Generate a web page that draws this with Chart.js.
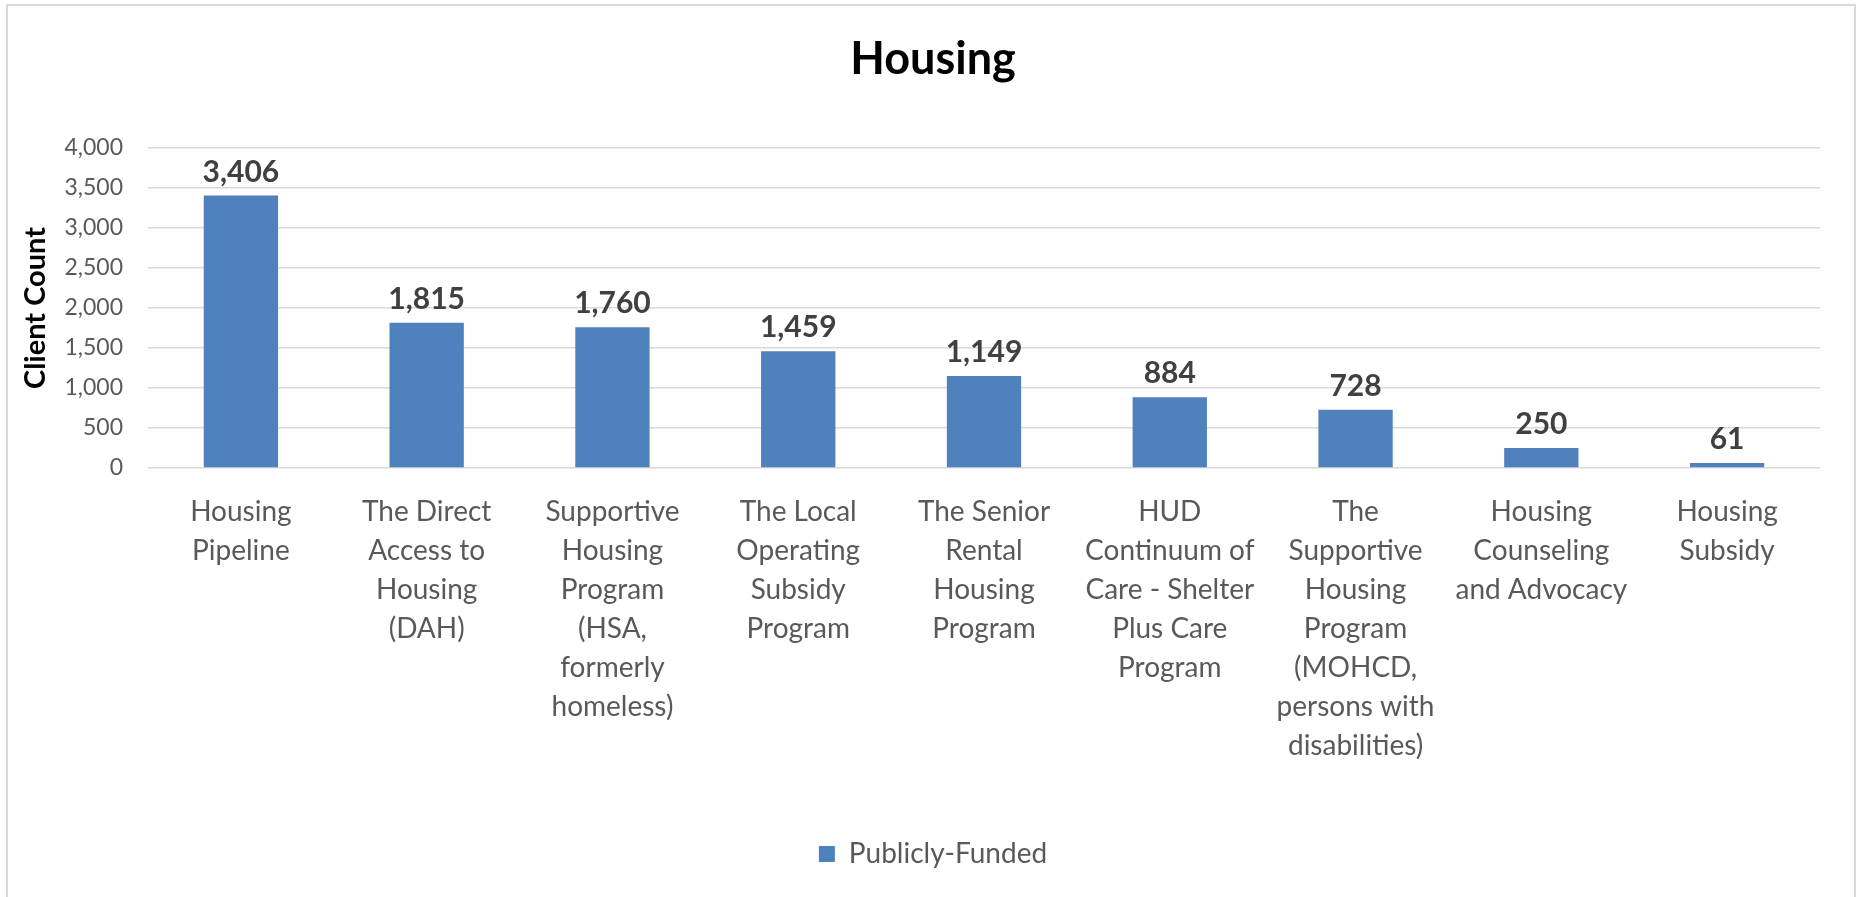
<!DOCTYPE html>
<html>
<head>
<meta charset="utf-8">
<script src="https://cdn.jsdelivr.net/npm/chart.js@4.4.1/dist/chart.umd.min.js"></script>
<style>
  html, body { margin: 0; padding: 0; background: #ffffff; width: 1859px; height: 897px; overflow: hidden; }
  #frame { position: absolute; left: 6px; top: 4px; width: 1850px; height: 960px; border: 2px solid #d9d9d9; box-sizing: border-box; }
  #c { position: absolute; left: 0; top: 0; }
</style>
</head>
<body>
<div id="frame"></div>
<canvas id="c" width="1859" height="897"></canvas>
<script>
const categories = [
  ["Housing", "Pipeline"],
  ["The Direct", "Access to", "Housing", "(DAH)"],
  ["Supportive", "Housing", "Program", "(HSA,", "formerly", "homeless)"],
  ["The Local", "Operating", "Subsidy", "Program"],
  ["The Senior", "Rental", "Housing", "Program"],
  ["HUD", "Continuum of", "Care - Shelter", "Plus Care", "Program"],
  ["The", "Supportive", "Housing", "Program", "(MOHCD,", "persons with", "disabilities)"],
  ["Housing", "Counseling", "and Advocacy"],
  ["Housing", "Subsidy"]
];
const publiclyFunded = [3406, 1815, 1760, 1459, 1149, 884, 728, 250, 61];
const seriesName = "Publicly-Funded";
const chartTitle = "Housing";
const yAxisTitle = "Client Count";
const yMin = 0, yMax = 4000, yStep = 500;

const FONT = "Lato, 'Open Sans', sans-serif";

const valueLabels = {
  id: 'valueLabels',
  afterDatasetsDraw(chart) {
    const ctx = chart.ctx;
    const meta = chart.getDatasetMeta(0);
    const data = chart.data.datasets[0].data;
    ctx.save();
    ctx.font = "bold 30px " + FONT;
    ctx.fillStyle = "#404040";
    ctx.textAlign = "center";
    ctx.textBaseline = "alphabetic";
    meta.data.forEach((bar, i) => {
      ctx.fillText(data[i].toLocaleString('en-US'), bar.x, bar.y - 14);
    });
    ctx.restore();
  }
};

new Chart(document.getElementById('c'), {
  type: 'bar',
  data: {
    labels: categories,
    datasets: [{
      label: seriesName,
      data: publiclyFunded,
      backgroundColor: '#4f81bd',
      borderWidth: 0,
      barPercentage: 0.4,
      categoryPercentage: 1.0
    }]
  },
  options: {
    responsive: false,
    animation: false,
    devicePixelRatio: 1,
    layout: { padding: { left: 46, right: 39, top: 0, bottom: 19 } },
    plugins: {
      title: {
        display: true,
        text: chartTitle,
        color: '#000000',
        font: { family: FONT, size: 45, weight: 'bold', lineHeight: 1.2 },
        padding: { top: 32, bottom: 62 }
      },
      legend: {
        display: true,
        position: 'bottom',
        labels: {
          color: '#595959',
          font: { family: FONT, size: 28 },
          boxWidth: 16,
          boxHeight: 16,
          padding: 10
        }
      },
      tooltip: { enabled: false }
    },
    scales: {
      x: {
        grid: { display: false, drawTicks: false },
        border: { display: false },
        ticks: {
          color: '#595959',
          font: { family: FONT, size: 28, lineHeight: 39 / 28 },
          padding: 24,
          autoSkip: false,
          maxRotation: 0,
          minRotation: 0
        },
        afterFit(scale) { scale.height = 362; }
      },
      y: {
        min: yMin,
        max: yMax,
        grid: { color: '#d9d9d9', lineWidth: 1.5, drawTicks: false },
        border: { display: false },
        ticks: {
          stepSize: yStep,
          color: '#595959',
          font: { family: FONT, size: 23 },
          padding: 25,
          callback: (v) => Number(v).toLocaleString('en-US')
        },
        title: {
          display: true,
          text: yAxisTitle,
          color: '#000000',
          font: { family: FONT, size: 29, weight: 'bold', lineHeight: 1.2 },
          padding: { top: -28, bottom: 0 }
        },
        afterFit(scale) { scale.width = 102; }
      }
    }
  },
  plugins: [valueLabels]
});
</script>
</body>
</html>
